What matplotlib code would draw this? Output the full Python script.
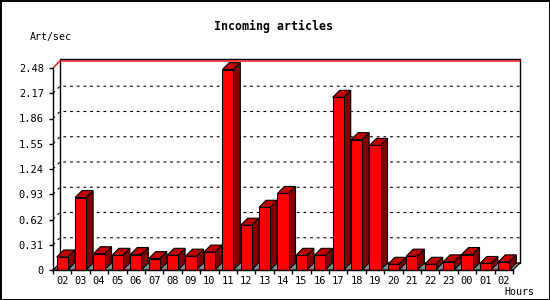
import numpy as np
import matplotlib.pyplot as plt
from matplotlib.patches import Rectangle, Polygon

# data
hours = ['02', '03', '04', '05', '06', '07', '08', '09', '10', '11', '12', '13', '14',
         '15', '16', '17', '18', '19', '20', '21', '22', '23', '00', '01', '02']
rates = [0.16, 0.89, 0.20, 0.18, 0.19, 0.14, 0.18, 0.17, 0.22, 2.46, 0.55, 0.77, 0.94,
         0.18, 0.18, 2.12, 1.60, 1.53, 0.07, 0.17, 0.07, 0.10, 0.19, 0.08, 0.10]
yticks = [0, 0.31, 0.62, 0.93, 1.24, 1.55, 1.86, 2.17, 2.48]
ymax = 2.48

FONT = 'DejaVu Sans Mono'
W, H = 550, 300
ax_l, ax_r, ax_t, ax_b = 53, 513, 68, 270   # front plot area in pixels
depth = 7                                   # 3d offset in pixels

fig = plt.figure(figsize=(W / 100, H / 100), dpi=100, edgecolor='black', linewidth=2)
ax = fig.add_axes([ax_l / W, 1 - ax_b / H, (ax_r - ax_l) / W, (ax_b - ax_t) / H])
ax.patch.set_visible(False)
n = len(hours)
ax.set_xlim(0, n)
ax.set_ylim(0, ymax)

dx = depth * n / (ax_r - ax_l)
dy = depth * ymax / (ax_b - ax_t)
px = ymax / (ax_b - ax_t)   # one pixel in y data units

# back wall
back = Polygon([(dx, dy), (n + dx, dy), (n + dx, ymax + dy + 2 * px), (dx, ymax + dy + 2 * px)],
               closed=True, fc='white', ec='black', lw=1, clip_on=False, zorder=0)
ax.add_patch(back)

# grid lines (3d)
for v in yticks[1:-1]:
    ax.plot([0, dx, n + dx], [v, v + dy, v + dy], color='black', lw=0.8,
            linestyle=(0, (2.5, 3.5)), clip_on=False, zorder=1)

# max line
ax.plot([0, dx, n + dx], [ymax, ymax + dy, ymax + dy], color='red', lw=1,
        clip_on=False, zorder=1)

# floor
floor = Polygon([(0, 0), (n, 0), (n + dx, dy), (dx, dy)], closed=True,
                fc='#8c8c8c', ec='black', lw=0.8, clip_on=False, zorder=2)
ax.add_patch(floor)

# bars
bw = 0.6
for i, v in enumerate(rates):
    x0 = i + (1 - bw) / 2
    x1 = x0 + bw
    side = Polygon([(x1, 0), (x1 + dx, dy), (x1 + dx, v + dy), (x1, v)], closed=True,
                   fc='#800000', ec='black', lw=0.8, clip_on=False, zorder=3)
    top = Polygon([(x0, v), (x1, v), (x1 + dx, v + dy), (x0 + dx, v + dy)], closed=True,
                  fc='#c00000', ec='black', lw=0.8, clip_on=False, zorder=3)
    front = Rectangle((x0, 0), bw, v, fc='#ff0000', ec='black', lw=0.8,
                      clip_on=False, zorder=3)
    ax.add_patch(side)
    ax.add_patch(top)
    ax.add_patch(front)

# axes
for s in ['top', 'right']:
    ax.spines[s].set_visible(False)
for s in ['left', 'bottom']:
    ax.spines[s].set_linewidth(1)
    ax.spines[s].set_zorder(5)

ax.set_yticks(yticks)
ax.set_yticklabels(['0' if v == 0 else '%.2f' % v for v in yticks], fontfamily=FONT, fontsize=7.5)
ax.tick_params(axis='y', direction='out', length=3, width=1, pad=3.6)

ax.set_xticks(np.arange(n + 1))
ax.set_xticklabels([])
ax.set_xticks(np.arange(n) + 0.5, minor=True)
ax.set_xticklabels(hours, minor=True, fontfamily=FONT, fontsize=7.5)
ax.tick_params(axis='x', which='major', direction='out', length=3, width=1)
ax.tick_params(axis='x', which='minor', length=0, pad=4.3)

fig.text(273.5 / W, 1 - 26 / H, 'Incoming articles', ha='center', va='center',
         fontfamily=FONT, fontsize=8.4, fontweight='bold')
fig.text(30 / W, 1 - 37 / H, 'Art/sec', ha='left', va='center', fontfamily=FONT, fontsize=7.2)
fig.text(534 / W, 1 - 292 / H, 'Hours', ha='right', va='center', fontfamily=FONT, fontsize=7.2)

fig.savefig('out.png', dpi=100, edgecolor=fig.get_edgecolor())
